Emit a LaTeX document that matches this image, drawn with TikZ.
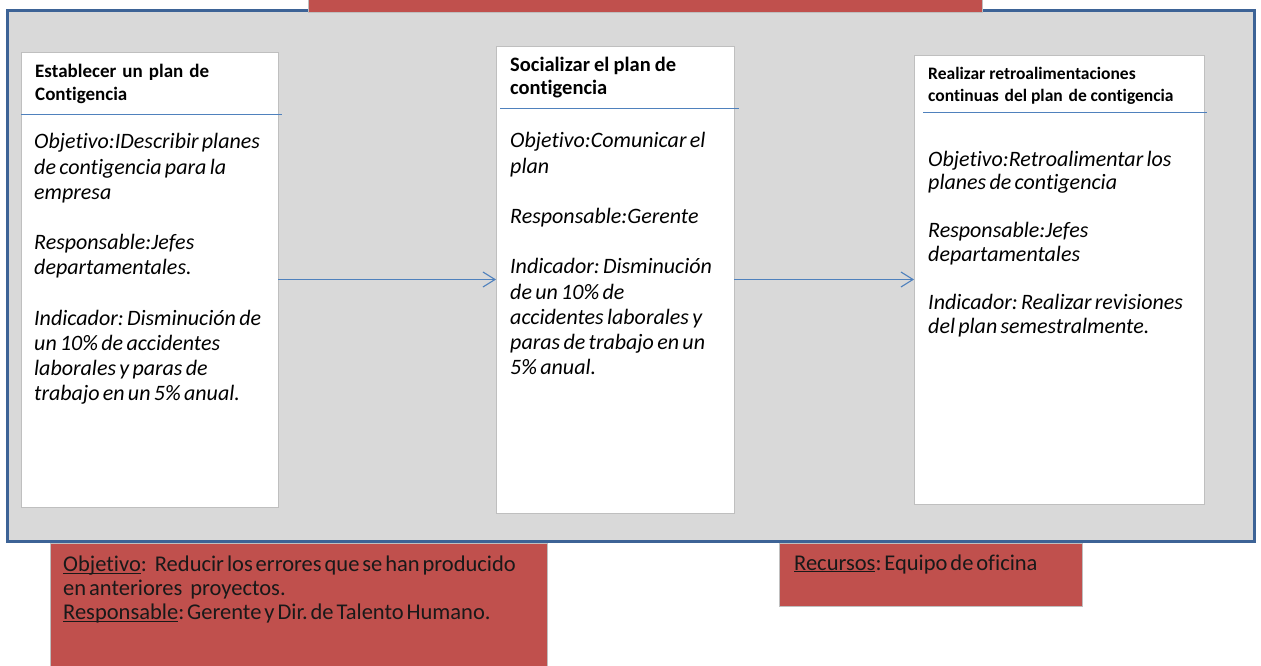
\documentclass[tikz,border=0pt]{standalone}
\usepackage{fontspec}
\setmainfont{Carlito}[Ligatures=NoCommon]
\usetikzlibrary{arrows.meta,calc}
\definecolor{framegray}{HTML}{D9D9D9}
\definecolor{frameblue}{HTML}{3D6396}
\definecolor{redbox}{HTML}{C0504D}
\definecolor{linkblue}{HTML}{4F81BD}
\definecolor{boxedge}{HTML}{BFBFBF}
\newcommand{\tightsp}[1]{\frenchspacing\spaceskip=#1em\relax\xspaceskip=#1em\relax}
\newcommand{\uword}[1]{\leavevmode{\setbox0\hbox{#1}\rlap{\rule[-2.4pt]{\wd0}{1pt}}\box0}}
\tikzset{
  stepbox/.style={draw=boxedge, line width=0.9pt, fill=white, anchor=north west, inner sep=0pt, outer sep=0pt},
  redpanel/.style={draw=boxedge, line width=0.9pt, fill=redbox, anchor=north west, inner sep=0pt, outer sep=0pt},
  headline/.style={draw=linkblue, line width=1pt},
  flow/.style={draw=linkblue, line width=1.1pt, -{Straight Barb[length=12pt,width=15pt,line width=1.1pt]}},
  titletext/.style={anchor=base west, inner sep=0pt, align=left, text width=#1},
  bodytext/.style={anchor=base west, inner sep=0pt, align=left, text width=#1},
  paneltext/.style={anchor=base west, inner sep=0pt, align=left, text width=#1, text=black!90}
}
\begin{document}
\begin{tikzpicture}[x=1pt,y=-1pt]
\useasboundingbox (0,0) rectangle (1261,666);
% outer frame
\node[draw=frameblue, line width=3pt, fill=framegray, anchor=north west, inner sep=0pt, outer sep=0pt,
      minimum width=1246.5pt, minimum height=530pt] (frame) at (7.5,11) {};
% top red bar
\node[redpanel, minimum width=674pt, minimum height=18pt] (topbar) at (308,-5.5) {};
% step boxes
\node[stepbox, minimum width=257pt, minimum height=455pt] (b1) at (21,52) {};
\node[stepbox, minimum width=238pt, minimum height=467pt] (b2) at (496,46) {};
\node[stepbox, minimum width=290pt, minimum height=449pt] (b3) at (914,55) {};
% header lines
\draw[headline] ($(b1.north west)+(0,63)$) -- ($(b1.north east)+(4,63)$);
\draw[headline] ($(b2.north west)+(4,63)$) -- ($(b2.north east)+(5,63)$);
\draw[headline] ($(b3.north west)+(9,58)$) -- ($(b3.north east)+(3,58)$);
% connectors
\draw[flow] (b1.east) -- (b2.west);
\draw[flow] (b2.east) -- (b3.west);
% titles
\node[titletext=250pt, font=\bfseries\fontsize{19}{23}\selectfont] (t1) at (35,77.5)
  {\tightsp{0.32}Establecer un plan de\\Contigencia};
\node[titletext=235pt, font=\bfseries\fontsize{20.5}{23.5}\selectfont] (t2) at (510,71.5)
  {\tightsp{0.2}Socializar el plan de\\contigencia};
\node[titletext=285pt, font=\bfseries\fontsize{17.5}{22.5}\selectfont] (t3) at (928,79.5)
  {\tightsp{0.22}Realizar retroalimentaciones\\continuas\hspace{2pt} del plan\hspace{2pt} de contigencia};
% bodies
\node[bodytext=260pt, font=\itshape\fontsize{22}{25.2}\selectfont] (d1) at (34,149)
  {\tightsp{0.15}Objetivo:IDescribir planes\\de contigencia para la\\empresa\\[25.2pt]Responsable:Jefes\\departamentales.\\[25.2pt]Indicador: Disminución de\\un 10\% de accidentes\\laborales y paras de\\trabajo en un 5\% anual.};
\node[bodytext=250pt, font=\itshape\fontsize{22}{25.2}\selectfont] (d2) at (510,148)
  {\tightsp{0.15}Objetivo:Comunicar el\\plan\\[25.2pt]Responsable:Gerente\\[25.2pt]Indicador: Disminución\\de un 10\% de\\accidentes laborales y\\paras de trabajo en un\\5\% anual.};
\node[bodytext=285pt, font=\itshape\fontsize{22}{24}\selectfont] (d3) at (928,166)
  {\tightsp{0.15}Objetivo:Retroalimentar los\\planes de contigencia\\[24pt]Responsable:Jefes\\departamentales\\[24pt]Indicador: Realizar revisiones\\del plan semestralmente.};
% bottom panels
\node[redpanel, minimum width=497pt, minimum height=130pt] (p1) at (50,543) {};
\node[redpanel, minimum width=303pt, minimum height=63pt] (p2) at (779,543) {};
\node[paneltext=510pt, font=\fontsize{22.5}{24}\selectfont] (q1) at (63,571.5)
  {\tightsp{0.13}\uword{Objetivo}:\hspace{8pt}Reducir los errores que se han producido\\en anteriores\hspace{5pt} proyectos.\\\uword{Responsable}: Gerente y Dir. de Talento Humano.};
\node[paneltext=290pt, font=\fontsize{22.5}{24}\selectfont] (q2) at (794,570)
  {\tightsp{0.13}\uword{Recursos}: Equipo de oficina};
\end{tikzpicture}
\end{document}
